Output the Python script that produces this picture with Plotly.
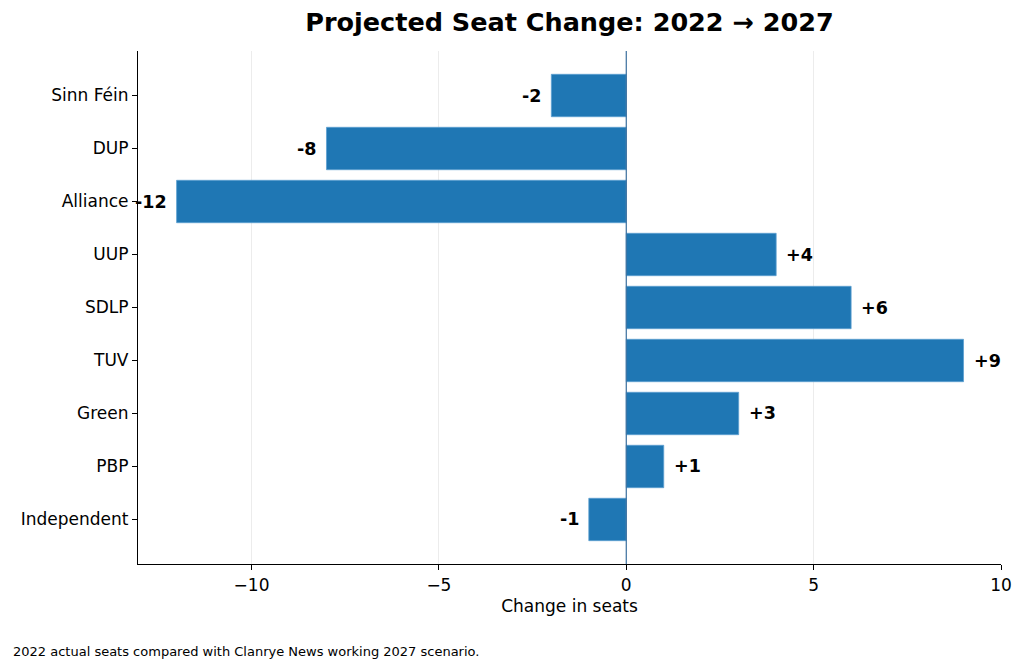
import plotly.graph_objects as go

# Projected seat change by party, 2022 -> 2027
parties = ["Sinn Féin", "DUP", "Alliance", "UUP", "SDLP", "TUV", "Green", "PBP", "Independent"]
change = [-2, -8, -12, 4, 6, 9, 3, 1, -1]
x_ticks = [-10, -5, 0, 5, 10]
x_tick_text = ["\u221210", "\u22125", "0", "5", "10"]

labels = [f"+{v}" if v > 0 else f"{v}" for v in change]

fig = go.Figure()
fig.add_trace(go.Bar(
    x=change,
    y=parties,
    orientation="h",
    width=0.8,
    marker=dict(color="#1f77b4", line=dict(color="#5d9fd0", width=0.8)),
    hoverinfo="x+y",
))

# value labels at bar ends
for p, v, lab in zip(parties, change, labels):
    fig.add_annotation(
        x=v, y=p, text=f"<b>{lab}</b>", showarrow=False,
        xanchor="left" if v > 0 else "right",
        xshift=8 if v > 0 else -8,
        font=dict(size=17.5, color="black", family="DejaVu Sans"),
    )

# zero reference line
fig.add_vline(x=0, line=dict(color="#3a6f9e", width=1.2))

fig.update_layout(
    width=1024, height=669,
    margin=dict(l=138, r=19, t=51, b=105),
    plot_bgcolor="white",
    paper_bgcolor="white",
    font=dict(family="DejaVu Sans", size=17, color="black"),
    showlegend=False,
    title=dict(
        text="<b>Projected Seat Change: 2022 \u2192 2027</b>",
        x=0.5, xanchor="center", xref="paper",
        y=0.967, yanchor="middle",
        font=dict(size=25.5, family="DejaVu Sans", color="black"),
    ),
    xaxis=dict(
        range=[-13.03, 10.0],
        tickvals=x_ticks, ticktext=x_tick_text,
        showgrid=True, gridcolor="rgba(200,200,200,0.35)", gridwidth=1,
        zeroline=False,
        showline=True, linecolor="black", linewidth=1.2,
        ticks="outside", ticklen=5, tickcolor="black",
        title=dict(text="Change in seats", font=dict(size=17), standoff=6),
        tickfont=dict(size=17),
        layer="above traces",
    ),
    yaxis=dict(
        categoryorder="array", categoryarray=parties,
        autorange=False,
        range=[8.84, -0.84],
        showgrid=False, zeroline=False,
        showline=True, linecolor="black", linewidth=1.2,
        ticks="outside", ticklen=5, tickcolor="black",
        tickfont=dict(size=17),
    ),
)

fig.add_annotation(
    text="2022 actual seats compared with Clanrye News working 2027 scenario.",
    xref="paper", yref="paper", x=(10 - 138) / 867, y=-0.171,
    xanchor="left", yanchor="middle", showarrow=False,
    font=dict(size=13, color="black", family="DejaVu Sans"),
)

fig.write_html("out.html", config={"displayModeBar": False},
               post_script="document.body.style.margin='0';")
